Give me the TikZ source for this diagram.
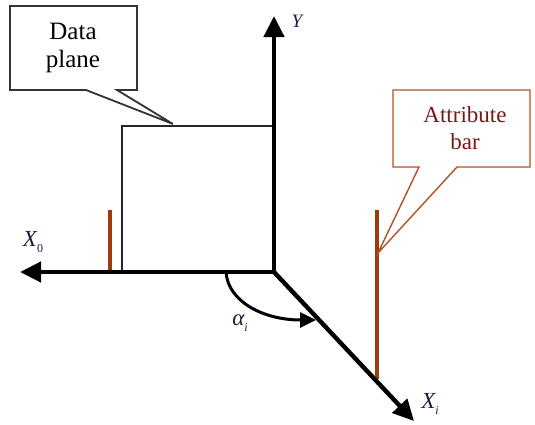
\documentclass[tikz,border=0pt]{standalone}
\usepackage{fontspec}
\setmainfont{Liberation Serif}
\usetikzlibrary{arrows.meta}
\definecolor{barbrown}{RGB}{158,58,12}
\definecolor{calloutbrown}{RGB}{176,82,36}
\definecolor{attrtext}{RGB}{120,24,24}
\definecolor{lbltext}{RGB}{30,30,60}
\newcommand{\subl}[1]{\raisebox{-0.25em}{\fontsize{12}{12}\selectfont #1}}
\tikzset{
  axis/.style={line width=4.4pt,-{Triangle[length=21pt,width=20pt]}},
  bar/.style={line width=4.8pt,barbrown},
  plane/.style={line width=1.8pt,black!85},
  lbl/.style={font=\fontsize{23}{24}\selectfont\itshape,inner sep=0pt,text=lbltext},
}
\begin{document}
\begin{tikzpicture}[x=1pt,y=-1pt]
\useasboundingbox (0,0) rectangle (535,424);
% key points
\coordinate (O) at (274,272);
\coordinate (Ytip) at (274,16);
\coordinate (X0tip) at (20,272);
\coordinate (Xitip) at (414,421);
\coordinate (RTL) at (122,126);
\coordinate (RTR) at (274,126);
\coordinate (RBL) at (122,272);
\coordinate (B1top) at (110,210);
\coordinate (B1bot) at (110,272);
\coordinate (B2top) at (377,210);
\coordinate (B2bot) at (377,379);
\coordinate (B2tip) at (378,253);
\coordinate (DPtip) at (173,124);
\coordinate (ArcS) at (226,272);
\coordinate (ArcE) at (316,320);
% data plane rectangle
\draw[plane] (RBL) -- (RTL) -- (RTR);
% bars
\draw[bar] (B1top) -- (B1bot);
\draw[bar] (B2top) -- (B2bot);
% axes
\draw[axis] (O) -- (Ytip);
\draw[axis] (O) -- (X0tip);
\draw[axis] (O) -- (Xitip);
% angle arc
\draw[line width=3pt,-{Triangle[length=16pt,width=15pt]}] (ArcS) .. controls (228,302) and (264,320) .. (ArcE);
% callouts
\draw[line width=1.8pt,black!80,fill=white] (10,6) -- (137,6) -- (137,90) -- (117,90) -- (DPtip) -- (86,90) -- (10,90) -- cycle;
\node[align=center,font=\fontsize{25}{28}\selectfont,inner sep=0pt] (dp) at (73,48) {Data\\plane};
\draw[line width=1.4pt,calloutbrown,fill=white] (393,90) -- (530,90) -- (530,167) -- (457,167) -- (B2tip) -- (419,167) -- (393,167) -- cycle;
\node[align=center,font=\fontsize{23}{27}\selectfont,text=attrtext,inner sep=0pt] (ab) at (465,128) {Attribute\\bar};
% labels
\node[lbl] (lx0) at (33,242) {X\subl{\upshape 0}};
\node[lbl] (ly) at (297,21) {\fontsize{19}{20}\selectfont Y};
\node[lbl] (lxi) at (430,404) {X\subl{i}};
\node[lbl] (lal) at (240,323) {α\subl{i}};
\end{tikzpicture}
\end{document}
